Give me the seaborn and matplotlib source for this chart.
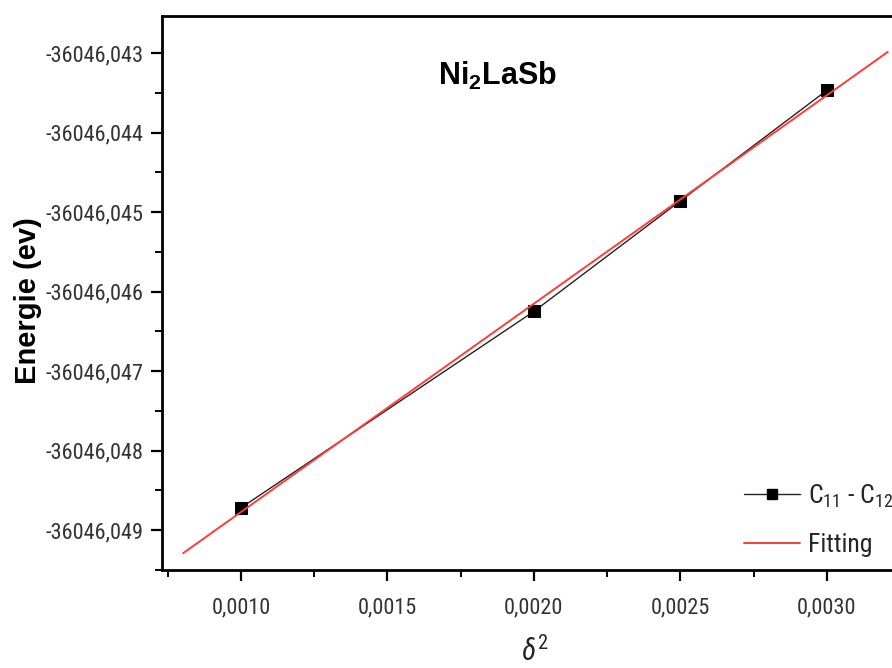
import numpy as np
import pandas as pd
import matplotlib
matplotlib.use("Agg")
import matplotlib.pyplot as plt
from matplotlib.ticker import MultipleLocator, FuncFormatter
from matplotlib.lines import Line2D
import seaborn as sns

# Strain energy vs delta^2 for Ni2LaSb
delta2 = [0.0010, 0.0020, 0.0025, 0.0030]
energy = [-36046.04872, -36046.04625, -36046.04486, -36046.04347]

x_ticks = [0.0010, 0.0015, 0.0020, 0.0025, 0.0030]
y_ticks = [-36046.049, -36046.048, -36046.047, -36046.046,
           -36046.045, -36046.044, -36046.043]

sns.set_theme(style="ticks")
plt.rcParams["font.family"] = ["Roboto Condensed", "Liberation Sans", "DejaVu Sans"]
plt.rcParams["mathtext.fontset"] = "custom"
plt.rcParams["mathtext.rm"] = "Roboto Condensed"
plt.rcParams["mathtext.it"] = "Roboto Condensed:italic"
plt.rcParams["mathtext.bf"] = "Liberation Sans:bold"

fig = plt.figure(figsize=(8.92, 6.68), dpi=100)
ax = fig.add_axes([0.1816, 0.1467, 0.8274, 0.8293])

df = pd.DataFrame({"delta2": delta2, "energy": energy})

# linear fit of the energy points
slope, intercept = np.polyfit(delta2, energy, 1)
fit_x = np.linspace(0.000802, 0.003208, 50)
fit_df = pd.DataFrame({"delta2": fit_x, "energy": slope * fit_x + intercept})

sns.lineplot(data=df, x="delta2", y="energy", ax=ax, color="#222222",
             linewidth=1.0, marker="s", markersize=9, markeredgecolor="black",
             markerfacecolor="black", zorder=3)
sns.lineplot(data=fit_df, x="delta2", y="energy", ax=ax, color="#ff3b3b",
             linewidth=1.4, zorder=4)

ax.set_xlim(0.00073, 0.00325)
ax.set_ylim(-36046.049503, -36046.042535)

ax.set_xticks(x_ticks)
ax.set_yticks(y_ticks)
ax.xaxis.set_minor_locator(MultipleLocator(0.00025))
ax.yaxis.set_minor_locator(MultipleLocator(0.0005))
ax.xaxis.set_major_formatter(FuncFormatter(lambda v, p: f"{v:.4f}".replace(".", ",")))
ax.yaxis.set_major_formatter(FuncFormatter(lambda v, p: f"{v:.3f}".replace(".", ",")))

ax.tick_params(axis="both", which="major", direction="out", length=8, width=1.6,
               labelsize=16, labelcolor="#333333", color="black", pad=5)
ax.tick_params(axis="both", which="minor", direction="out", length=5, width=1.4,
               color="black")
ax.tick_params(axis="x", which="major", pad=12)

for side in ["left", "bottom", "top", "right"]:
    ax.spines[side].set_visible(True)
    ax.spines[side].set_linewidth(2.0)
    ax.spines[side].set_color("black")

ax.set_xlabel(r"$\delta^2$", fontsize=21, color="#222222")
ax.xaxis.set_label_coords(0.505, -0.12)
ax.set_ylabel("Energie (ev)", fontsize=21, fontweight="bold",
              family=["Liberation Sans", "DejaVu Sans"], color="black")
ax.yaxis.set_label_coords(-0.163, 0.487)

ax.text(0.455, 0.875, r"Ni$_\mathbf{2}$LaSb", transform=ax.transAxes,
        fontsize=22, fontweight="bold", family=["Liberation Sans", "DejaVu Sans"],
        ha="center", va="baseline", color="black")

handles = [
    Line2D([], [], color="#222222", linewidth=1.0, marker="s", markersize=7,
           markerfacecolor="black", markeredgecolor="black"),
    Line2D([], [], color="#ff3b3b", linewidth=1.4),
]
ax.legend(handles, [r"C$_{11}$ - C$_{12}$", "Fitting"], loc="upper left",
          bbox_to_anchor=(0.788, 0.158), frameon=False, fontsize=18.5,
          handlelength=2.2, handletextpad=0.3, labelspacing=0.9,
          borderaxespad=0, borderpad=0)

fig.savefig("out.png", dpi=100)
